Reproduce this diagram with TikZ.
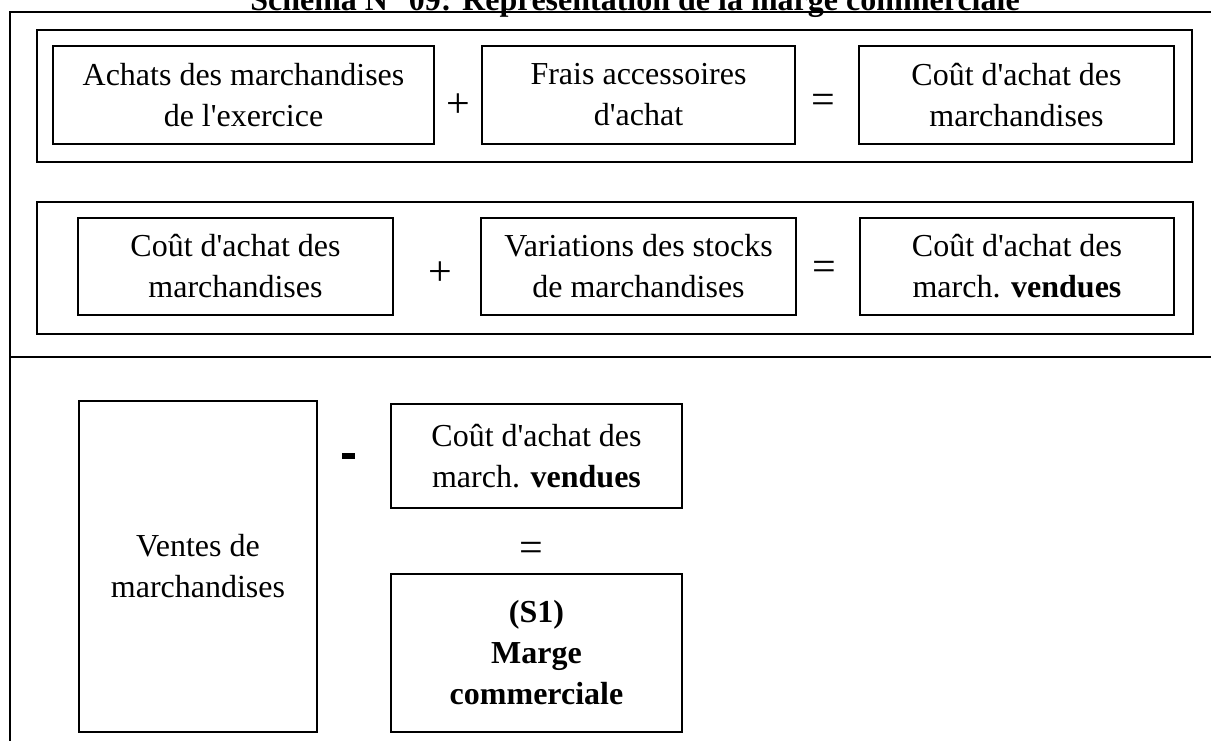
\documentclass[tikz,border=0pt]{standalone}
\usepackage{fontspec}
\setmainfont{Liberation Serif}[Ligatures=TeXOff]
\begin{document}
\begin{tikzpicture}[x=1pt,y=-1pt,
  every node/.style={font=\fontsize{32}{41}\selectfont},
  box/.style={draw, line width=2pt, align=center, inner sep=0pt, outer sep=0pt},
  group/.style={draw, line width=2pt, inner sep=0pt, outer sep=0pt},
  sign/.style={inner sep=0pt, outer sep=0pt, font=\fontsize{42}{48}\selectfont},
  bar/.style={fill=black, inner sep=0pt, outer sep=0pt}]
\clip (0,0) rectangle (1211,740);
\fill[white] (0,0) rectangle (1211,740);

% title and page frame
\node[anchor=base, font=\fontsize{32}{41}\selectfont\bfseries] (title) at (635,10)
  {Schéma N° 09: Représentation de la marge commerciale};
\coordinate (frameTR) at (1215,12);
\coordinate (frameTL) at (10,12);
\coordinate (frameBL) at (10,745);
\coordinate (divL) at (10,357);
\coordinate (divR) at (1215,357);
\draw[line width=2pt] (frameTR) -- (frameTL) -- (frameBL);
\draw[line width=2pt] (divL) -- (divR);

% first equation: purchase cost
\node[group, minimum width=1155pt, minimum height=132pt] (grp1) at (614.5,96) {};
\node[box, minimum width=381pt, minimum height=98pt] (a1) at (243.5,95)
  {Achats des marchandises\\de l'exercice};
\node[sign] (plus1) at (458,106) {+};
\node[box, minimum width=313pt, minimum height=98pt] (a2) at (638.5,95)
  {Frais accessoires\\d'achat};
\node[sign] (eq1) at (823,104) {=};
\node[box, minimum width=315pt, minimum height=98pt] (a3) at (1016.5,95)
  {Coût d'achat des\\marchandises};

% second equation: cost of goods sold
\node[group, minimum width=1156pt, minimum height=132pt] (grp2) at (615,268) {};
\node[box, minimum width=315pt, minimum height=97pt] (b1) at (235.5,266.5)
  {Coût d'achat des\\marchandises};
\node[sign] (plus2) at (440,274) {+};
\node[box, minimum width=315pt, minimum height=97pt] (b2) at (638.5,266.5)
  {Variations des stocks\\de marchandises};
\node[sign] (eq2) at (824,271) {=};
\node[box, minimum width=314pt, minimum height=97pt] (b3) at (1017,266.5)
  {Coût d'achat des\\march. \textbf{vendues}};

% commercial margin
\node[box, minimum width=238pt, minimum height=331pt] (c1) at (198,566.5)
  {Ventes de\\marchandises};
\node[bar, minimum width=13pt, minimum height=6pt] (minus) at (348.5,456) {};
\node[box, minimum width=291pt, minimum height=104pt] (c2) at (536.5,456)
  {Coût d'achat des\\march. \textbf{vendues}};
\node[sign] (eq3) at (531,552) {=};
\node[box, minimum width=291pt, minimum height=158pt, font=\fontsize{32}{41}\selectfont\bfseries] (c3) at (536.5,653)
  {(S1)\\Marge\\commerciale};
\end{tikzpicture}
\end{document}
